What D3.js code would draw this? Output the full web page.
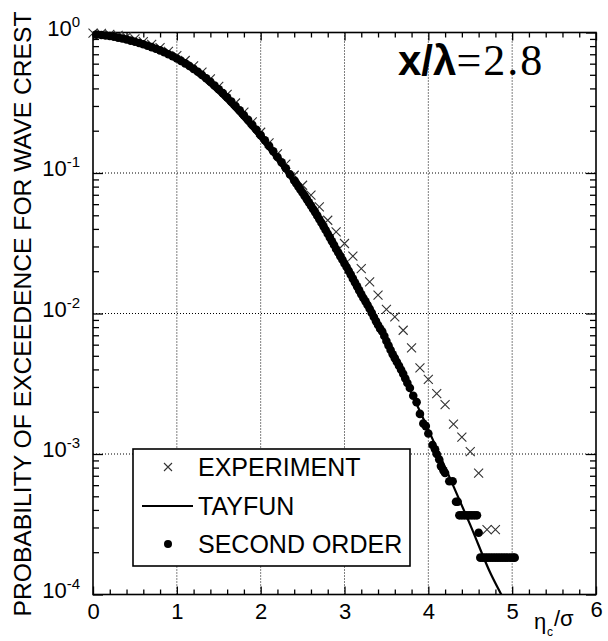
<!DOCTYPE html>
<html>
<head>
<meta charset="utf-8">
<script src="https://cdn.jsdelivr.net/npm/d3@7"></script>
<style>
  body { margin: 0; background: #ffffff; }
  svg { display: block; font-family: "Liberation Sans", Arial, Helvetica, sans-serif; }
  .grid line { stroke: #000; stroke-width: 1; stroke-dasharray: 1 2; }
  .axis path.domain { display: none; }
  .axis line { stroke: #000; stroke-width: 1.3; }
  .frame { fill: none; stroke: #000; stroke-width: 1.6; }
  .cross { stroke: #333; stroke-width: 1.1; fill: none; }
  .tayfun { fill: none; stroke: #000; stroke-width: 2.2; }
  .dot { fill: #000; }
</style>
</head>
<body>
<div id="chart"></div>
<script>
// EXPERIMENT (crosses)
const expX = [0.0, 0.1, 0.2, 0.3, 0.4, 0.5, 0.6, 0.7, 0.8, 0.9, 1.0, 1.1, 1.2, 1.3, 1.4, 1.5, 1.6, 1.7, 1.8, 1.9,
  2.0, 2.1, 2.2, 2.3, 2.4, 2.5, 2.6, 2.7, 2.8, 2.9, 3.0, 3.1, 3.2, 3.3, 3.4, 3.5, 3.6, 3.7, 3.8, 3.9,
  4.0, 4.1, 4.2, 4.3, 4.4, 4.5, 4.6, 4.7, 4.8];
const expP = [0.99, 0.985, 0.97, 0.955, 0.93, 0.9, 0.862, 0.823, 0.78, 0.735, 0.685, 0.632, 0.578, 0.523, 0.468, 0.413, 0.363, 0.315, 0.271, 0.231,
  0.195, 0.164, 0.137, 0.1155, 0.0964, 0.0818, 0.0695, 0.0574, 0.0461, 0.0381, 0.0315, 0.0256, 0.0209, 0.0168, 0.0135, 0.0107, 0.00946, 0.0076, 0.0057, 0.0041,
  0.0034, 0.00269, 0.00225, 0.00163, 0.00132, 0.00104, 0.00073, 0.00029, 0.00029];

// TAYFUN (solid line)
const tayfunX = [0, 0.25, 0.5, 0.75, 1.0, 1.25, 1.5, 1.75, 2.0, 2.25, 2.5, 2.75, 3.0, 3.25, 3.5, 3.75, 4.0, 4.25, 4.5, 4.75, 4.87];
const tayfunP = [1, 0.97, 0.89, 0.775, 0.64, 0.5, 0.368, 0.258, 0.173, 0.111, 0.068, 0.0398, 0.0224, 0.0121, 0.0063, 0.00312, 0.00149, 0.00069, 0.000313, 0.000138, 0.0001];

// SECOND ORDER (dots)
const dotX = [0.04, 0.10, 0.15, 0.20, 0.25, 0.30, 0.35, 0.40, 0.45, 0.50, 0.55, 0.60, 0.65, 0.70, 0.75, 0.80, 0.85, 0.90, 0.95,
  1.00, 1.05, 1.10, 1.15, 1.20, 1.25, 1.30, 1.35, 1.40, 1.45, 1.50, 1.55, 1.60, 1.65, 1.70, 1.75, 1.80, 1.85, 1.90, 1.95,
  2.00, 2.05, 2.10, 2.15, 2.20, 2.25, 2.30, 2.35, 2.40, 2.425, 2.45, 2.475, 2.50, 2.525, 2.55, 2.575, 2.60, 2.625, 2.65, 2.675,
  2.70, 2.725, 2.75, 2.775, 2.80, 2.825, 2.85, 2.875, 2.90, 2.925, 2.95, 2.975, 3.00, 3.025, 3.05, 3.075, 3.10, 3.125, 3.15, 3.175,
  3.20, 3.225, 3.25, 3.275, 3.30, 3.325, 3.35, 3.375, 3.40, 3.425, 3.45, 3.475, 3.50, 3.525, 3.55, 3.575, 3.60, 3.625, 3.65, 3.675,
  3.70, 3.725, 3.75, 3.78, 3.82, 3.86, 3.90, 3.94, 3.97, 4.00, 4.05, 4.08, 4.10, 4.13, 4.15, 4.18, 4.20, 4.25, 4.29, 4.33, 4.35,
  4.37, 4.40, 4.43, 4.46, 4.49, 4.52, 4.55, 4.58, 4.60,
  4.62, 4.65, 4.68, 4.71, 4.74, 4.77, 4.80, 4.83, 4.86, 4.89, 4.92, 4.95, 4.98, 5.01, 5.03];
const dotP = [0.966, 0.959, 0.953, 0.944, 0.933, 0.920, 0.906, 0.891, 0.875, 0.859, 0.841, 0.824, 0.805, 0.787, 0.767, 0.746, 0.724, 0.701, 0.678,
  0.653, 0.628, 0.603, 0.577, 0.551, 0.525, 0.499, 0.472, 0.446, 0.420, 0.394, 0.370, 0.346, 0.322, 0.300, 0.279, 0.258, 0.239, 0.220, 0.203,
  0.186, 0.171, 0.156, 0.143, 0.130, 0.119, 0.108, 0.0977, 0.0885, 0.0841, 0.0800, 0.0760, 0.0723, 0.0687, 0.0652, 0.0618, 0.0586, 0.0555, 0.0525, 0.0497,
  0.0469, 0.0443, 0.0417, 0.0393, 0.0370, 0.0348, 0.0327, 0.0307, 0.0288, 0.0272, 0.0256, 0.0241, 0.0227, 0.0214, 0.0201, 0.0189, 0.0177, 0.0166, 0.0156, 0.0146,
  0.0137, 0.0129, 0.0122, 0.0115, 0.0108, 0.0101, 0.00944, 0.00883, 0.00828, 0.00780, 0.00745, 0.00692, 0.00637, 0.00592, 0.00550, 0.00513, 0.00481, 0.00452, 0.00425, 0.00398,
  0.00372, 0.00345, 0.00320, 0.00295, 0.0026, 0.00234, 0.00193, 0.00165, 0.00158, 0.0014, 0.00116, 0.00108, 0.001, 0.000915, 0.00082, 0.000765, 0.000732, 0.00064, 0.00064, 0.000457, 0.000457,
  0.000366, 0.000366, 0.000366, 0.000366, 0.000366, 0.000366, 0.000366, 0.000366, 0.000275,
  0.000183, 0.000183, 0.000183, 0.000183, 0.000183, 0.000183, 0.000183, 0.000183, 0.000183, 0.000183, 0.000183, 0.000183, 0.000183, 0.000183, 0.000183];

const xTickLabels = [0, 1, 2, 3, 4, 5, 6];
const yDecades = [0, -1, -2, -3, -4];
const legendLabels = ['EXPERIMENT', 'TAYFUN', 'SECOND ORDER'];
const yTitle = 'PROBABILITY OF EXCEEDENCE FOR WAVE CREST';

const W = 608, H = 641;
const margin = { top: 32.5, right: 12, bottom: 46.5, left: 93 };
const width = W - margin.left - margin.right;
const height = H - margin.top - margin.bottom;

const x = d3.scaleLinear().domain([0, 6]).range([0, width]);
const y = d3.scaleLog().domain([1e-4, 1]).range([height, 0]);

const svg = d3.select('#chart').append('svg')
  .attr('width', W)
  .attr('height', H);

const g = svg.append('g').attr('transform', 'translate(' + margin.left + ',' + margin.top + ')');

// dotted grid
const grid = g.append('g').attr('class', 'grid');
grid.selectAll('.gx').data(xTickLabels.filter(d => d > 0 && d < 6)).enter().append('line')
  .attr('x1', d => x(d)).attr('x2', d => x(d)).attr('y1', 0).attr('y2', height);
grid.selectAll('.gy').data(yDecades.filter(d => d < 0 && d > -4)).enter().append('line')
  .attr('x1', 0).attr('x2', width).attr('y1', d => y(Math.pow(10, d))).attr('y2', d => y(Math.pow(10, d)));

// tick values
const xMinor = d3.range(0, 31).map(i => i / 5).filter(v => Math.abs(v - Math.round(v)) > 1e-6);
const yMinor = [];
yDecades.slice(1).forEach(e => { for (let k = 2; k <= 9; k++) yMinor.push(k * Math.pow(10, e)); });
const yMajor = yDecades.map(e => Math.pow(10, e));

// bottom + top
g.append('g').attr('class', 'axis').attr('transform', 'translate(0,' + height + ')')
  .call(d3.axisBottom(x).tickValues(xMinor).tickSize(-5).tickFormat(''));
g.append('g').attr('class', 'axis').attr('transform', 'translate(0,' + height + ')')
  .call(d3.axisBottom(x).tickValues(xTickLabels).tickSize(-8).tickPadding(9).tickFormat(d3.format('d')))
  .call(ax => ax.selectAll('text').attr('font-size', '22px').attr('fill', '#000').attr('font-family', 'inherit'))
  .call(ax => ax.selectAll('.tick').filter(d => d === 6).select('text').attr('y', 7));
g.append('g').attr('class', 'axis')
  .call(d3.axisTop(x).tickValues(xMinor).tickSize(-5).tickFormat(''));
g.append('g').attr('class', 'axis')
  .call(d3.axisTop(x).tickValues(xTickLabels).tickSize(-8).tickFormat(''));

// left + right
g.append('g').attr('class', 'axis')
  .call(d3.axisLeft(y).tickValues(yMinor).tickSize(-6).tickFormat(''));
g.append('g').attr('class', 'axis')
  .call(d3.axisLeft(y).tickValues(yMajor).tickSize(-10).tickFormat(''));
g.append('g').attr('class', 'axis').attr('transform', 'translate(' + width + ',0)')
  .call(d3.axisRight(y).tickValues(yMinor).tickSize(-6).tickFormat(''));
g.append('g').attr('class', 'axis').attr('transform', 'translate(' + width + ',0)')
  .call(d3.axisRight(y).tickValues(yMajor).tickSize(-10).tickFormat(''));

// y tick labels 10^n
const yLab = g.append('g').attr('font-size', '22px').attr('fill', '#000');
yDecades.forEach(e => {
  const t = yLab.append('text')
    .attr('x', -13)
    .attr('y', y(Math.pow(10, e)) + 3)
    .attr('text-anchor', 'end');
  t.append('tspan').text('10');
  t.append('tspan').attr('font-size', '15px').attr('dy', -9).text(String(e));
});

g.append('rect').attr('class', 'frame').attr('width', width).attr('height', height);

// EXPERIMENT crosses
const expData = expX.map((d, i) => ({ x: d, p: expP[i] }));
g.append('g').selectAll('path').data(expData).enter().append('path')
  .attr('class', 'cross')
  .attr('transform', d => 'translate(' + x(d.x) + ',' + y(d.p) + ')')
  .attr('d', 'M-4.5,-4.5L4.5,4.5M-4.5,4.5L4.5,-4.5');

// TAYFUN line
const tayData = tayfunX.map((d, i) => ({ x: d, p: tayfunP[i] }));
const line = d3.line().curve(d3.curveMonotoneX).x(d => x(d.x)).y(d => y(d.p));
g.append('path').attr('class', 'tayfun').attr('d', line(tayData));

// SECOND ORDER dots
const dotData = dotX.map((d, i) => ({ x: d, p: dotP[i] }));
g.append('g').selectAll('circle').data(dotData).enter().append('circle')
  .attr('class', 'dot')
  .attr('cx', d => x(d.x))
  .attr('cy', d => y(d.p))
  .attr('r', 4.3);

// legend
const lg = g.append('g').attr('transform', 'translate(' + (133 - margin.left) + ',' + (449 - margin.top) + ')');
lg.append('rect').attr('width', 277).attr('height', 117).attr('fill', '#fff').attr('stroke', '#000').attr('stroke-width', 1.6);
const rowY = [18, 57, 95];
lg.append('path').attr('class', 'cross').attr('transform', 'translate(35,' + rowY[0] + ')').attr('d', 'M-4,-4L4,4M-4,4L4,-4');
lg.append('line').attr('x1', 9).attr('x2', 60).attr('y1', rowY[1]).attr('y2', rowY[1]).attr('stroke', '#000').attr('stroke-width', 2.2);
lg.append('circle').attr('cx', 35).attr('cy', rowY[2]).attr('r', 4).attr('fill', '#000');
lg.selectAll('.ltext').data(legendLabels).enter().append('text')
  .attr('x', 65)
  .attr('y', (d, i) => rowY[i] + 9)
  .attr('font-size', '25px')
  .attr('fill', '#000')
  .text(d => d);

// y axis title
svg.append('text')
  .attr('transform', 'translate(31,' + 314 + ') rotate(-90)')
  .attr('text-anchor', 'middle')
  .attr('font-size', '23px')
  .attr('textLength', 605)
  .attr('lengthAdjust', 'spacingAndGlyphs')
  .attr('fill', '#000')
  .text(yTitle);

// x axis title  eta_c / sigma
const xt = svg.append('g').attr('font-size', '22px').attr('fill', '#000');
xt.append('text').attr('x', 534).attr('y', 629).text('\u03b7');
xt.append('text').attr('x', 547).attr('y', 636).attr('font-size', '12px').text('c');
xt.append('text').attr('x', 554).attr('y', 626).text('/\u03c3');

// panel title
const title = svg.append('text').attr('x', 398).attr('y', 75).attr('fill', '#000');
title.append('tspan').attr('font-weight', 'bold').attr('font-size', '42px').text('x/\u03bb');
title.append('tspan').attr('font-family', '"Liberation Serif", "Times New Roman", serif').attr('font-size', '44px')
  .attr('letter-spacing', '2px').text('=2.8');
</script>
</body>
</html>
